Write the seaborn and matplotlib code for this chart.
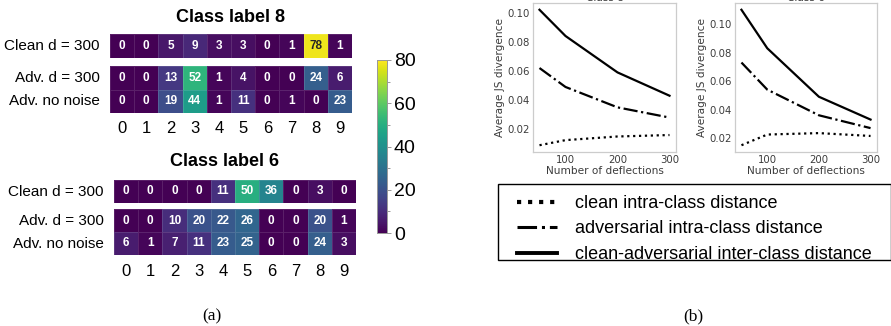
import matplotlib
matplotlib.use("Agg")
import numpy as np
import pandas as pd
import seaborn as sns
import matplotlib.pyplot as plt
from matplotlib.lines import Line2D
from matplotlib.patches import Rectangle
from matplotlib.ticker import FixedLocator

# ---- prediction histograms (counts per predicted digit) ----
digits = list(range(10))
row_clean = "Clean d = 300"
row_adv = "Adv. d = 300"
row_nonoise = "Adv. no noise"

label8_clean = [0, 0, 5, 9, 3, 3, 0, 1, 78, 1]
label8_adv = [0, 0, 13, 52, 1, 4, 0, 0, 24, 6]
label8_nonoise = [0, 0, 19, 44, 1, 11, 0, 1, 0, 23]

label6_clean = [0, 0, 0, 0, 11, 50, 36, 0, 3, 0]
label6_adv = [0, 0, 10, 20, 22, 26, 0, 0, 20, 1]
label6_nonoise = [6, 1, 7, 11, 23, 25, 0, 0, 24, 3]

cbar_ticks = [0, 20, 40, 60, 80]

# ---- JS divergence vs. number of deflections ----
deflections = [50, 100, 200, 300]
c8_clean_intra = [0.009, 0.0125, 0.015, 0.016]
c8_adv_intra = [0.062, 0.049, 0.035, 0.028]
c8_inter = [0.102, 0.084, 0.059, 0.043]
c6_clean_intra = [0.015, 0.0225, 0.0235, 0.0215]
c6_adv_intra = [0.073, 0.054, 0.036, 0.027]
c6_inter = [0.110, 0.083, 0.049, 0.033]
js_ticks = [0.02, 0.04, 0.06, 0.08, 0.10]
defl_ticks = [100, 200, 300]

legend_labels = ["clean intra-class distance",
                 "adversarial intra-class distance",
                 "clean-adversarial inter-class distance"]

W, H = 891, 326
fig = plt.figure(figsize=(W / 100, H / 100), dpi=100)
fig.patch.set_facecolor("white")


def px_axes(left, top, right, bottom):
    return fig.add_axes([left / W, 1 - bottom / H, (right - left) / W, (bottom - top) / H])


SANS = ["Liberation Sans", "DejaVu Sans"]
cmap = "viridis"
hm_kw = dict(cmap=cmap, vmin=0, vmax=80, annot=True, fmt="d",
             annot_kws={"size": 8.5, "weight": "bold", "family": SANS},
             linewidths=0.4, linecolor=(1, 1, 1, 0.12))

cax = px_axes(377, 60, 387, 233)

blocks = [
    ("Class label 8", label8_clean, label8_adv, label8_nonoise,
     (110, 34, 352, 58, 66, 113), 231, 17, 2),
    ("Class label 6", label6_clean, label6_adv, label6_nonoise,
     (114, 180, 356, 203, 209, 255), 224, 162, 3),
]

for i, (title, clean, adv, nonoise, box, tx, ty, xpad) in enumerate(blocks):
    left, t1, right, b1, t2, b2 = box
    ax_top = px_axes(left, t1, right, b1)
    ax_bot = px_axes(left, t2, right, b2)
    df_top = pd.DataFrame([clean], index=[row_clean], columns=digits)
    df_bot = pd.DataFrame([adv, nonoise], index=[row_adv, row_nonoise], columns=digits)
    sns.heatmap(df_top, ax=ax_top, cbar=(i == 0), cbar_ax=cax if i == 0 else None, **hm_kw)
    sns.heatmap(df_bot, ax=ax_bot, cbar=False, **hm_kw)
    for ax in (ax_top, ax_bot):
        ax.set_xlabel("")
        ax.set_ylabel("")
        ax.tick_params(left=False, bottom=False, pad=4)
        for lab in ax.get_yticklabels():
            lab.set_rotation(0)
            lab.set_fontsize(11)
            lab.set_family(SANS)
    ax_top.set_xticks([])
    ax_bot.set_xticklabels([str(d) for d in digits], fontsize=12, family=SANS)
    ax_bot.tick_params(axis="x", pad=xpad)
    fig.text(tx / W, 1 - ty / H, title, ha="center", va="center",
             fontsize=13, fontweight="bold", family=SANS)

cbar = cax.collections[0].colorbar if cax.collections else None
cax.set_yticks(cbar_ticks)
cax.yaxis.set_minor_locator(FixedLocator([10, 30, 50, 70]))
cax.tick_params(which="major", length=3, width=0.6, color="#888888", pad=2,
                labelsize=14)
cax.tick_params(which="minor", length=2, width=0.6, color="#888888")
for lab in cax.get_yticklabels():
    lab.set_family(SANS)
for sp in cax.spines.values():
    sp.set_visible(True)
    sp.set_color("#999999")
    sp.set_linewidth(0.6)
if cbar is not None:
    cbar.outline.set_edgecolor("#999999")
    cbar.outline.set_linewidth(0.6)

# ---- line panels ----
txt_color = "#3c3c3c"
panels = [
    ("Class 8", c8_clean_intra, c8_adv_intra, c8_inter, (533, 3, 676, 152)),
    ("Class 6", c6_clean_intra, c6_adv_intra, c6_inter, (735, 3, 877, 152)),
]
styles = [":", "-.", "-"]
for title, clean_intra, adv_intra, inter, box in panels:
    ax = px_axes(*box)
    for ys, ls in zip((clean_intra, adv_intra, inter), styles):
        sns.lineplot(x=deflections, y=ys, ax=ax, color="black", linestyle=ls,
                     linewidth=1.6)
    ax.set_xticks(defl_ticks)
    ax.set_yticks(js_ticks)
    ax.set_yticklabels([f"{v:.2f}" for v in js_ticks])
    ax.tick_params(length=0, pad=2, labelsize=7.3, labelcolor=txt_color)
    ax.set_xlabel("Number of deflections", fontsize=7.6, color=txt_color, labelpad=1)
    ax.set_ylabel("Average JS divergence", fontsize=7.6, color=txt_color, labelpad=2)
    ax.set_title(title, fontsize=7.6, color=txt_color, pad=1)
    ax.set_facecolor("white")
    for sp in ax.spines.values():
        sp.set_color("#cccccc")
        sp.set_linewidth(0.9)

# ---- shared legend ----
handles = [Line2D([], [], color="black", linestyle=":", linewidth=3.0),
           Line2D([], [], color="black", linestyle="-.", linewidth=2.2),
           Line2D([], [], color="black", linestyle="-", linewidth=2.8)]
fig.legend(handles, legend_labels, loc="upper left",
           bbox_to_anchor=(517 / W, 1 - 195 / H), frameon=False,
           borderpad=0, borderaxespad=0, handlelength=2.2, handletextpad=1.0,
           labelspacing=0.47, prop={"family": SANS, "size": 13})
fig.patches.append(Rectangle((498 / W, 1 - 260 / H), (890.5 - 498) / W, 76 / H,
                             transform=fig.transFigure, fill=False,
                             edgecolor="black", linewidth=1.0))

# ---- sub-captions ----
SERIF = ["Liberation Serif", "DejaVu Serif"]
fig.text(212 / W, 1 - 316 / H, "(a)", ha="center", va="center", fontsize=12.5, family=SERIF)
fig.text(693 / W, 1 - 316 / H, "(b)", ha="center", va="center", fontsize=12.5, family=SERIF)

fig.savefig("out.png", dpi=100, facecolor="white")
